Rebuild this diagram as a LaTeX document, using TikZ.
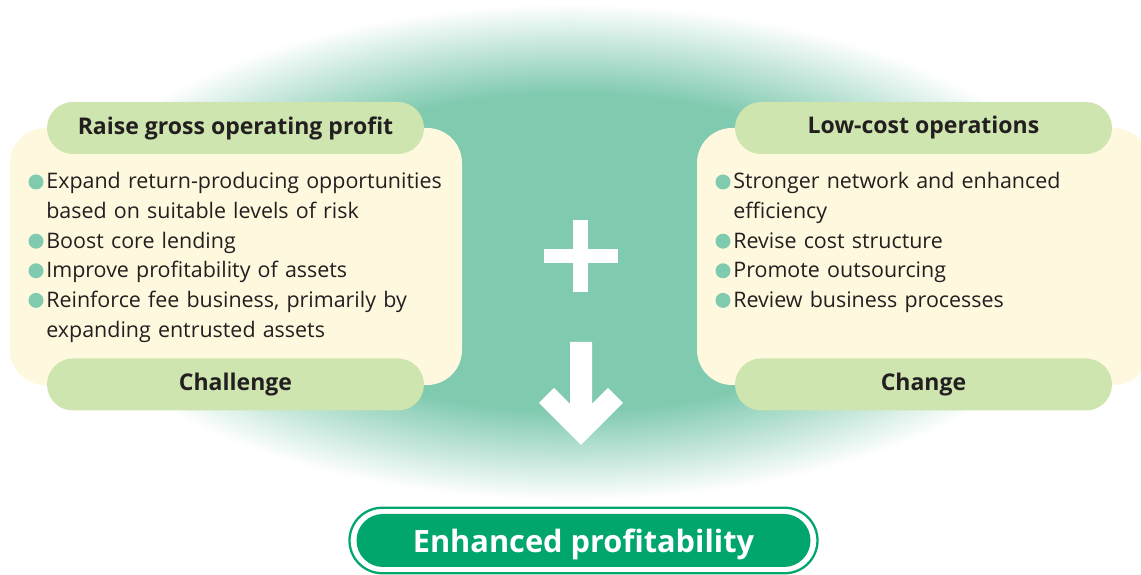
\documentclass[tikz,border=0pt]{standalone}
\usepackage{fontspec}
\setmainfont{Open Sans}
\definecolor{glow}{RGB}{128,202,176}
\definecolor{paper}{RGB}{254,249,222}
\definecolor{leaf}{RGB}{207,229,175}
\definecolor{result}{RGB}{0,166,108}
\definecolor{ink}{RGB}{35,31,32}
\pgfdeclareradialshading{glowfade}{\pgfpoint{0cm}{0cm}}{color(0bp)=(glow); color(16bp)=(glow); color(25bp)=(white); color(50bp)=(white)}
\tikzstyle{panel}=[rectangle,fill=paper,rounded corners=0.7cm,minimum width=9.04cm,minimum height=5.14cm]
\tikzstyle{pill}=[rectangle,fill=leaf,rounded corners=0.52cm,minimum width=7.54cm,minimum height=1.04cm,text=ink,font=\fontsize{13.1}{16}\selectfont\bfseries]
\tikzstyle{item}=[anchor=base west,inner sep=0,text width=9cm,align=left,text=ink,font=\fontsize{12.2}{16.85}\selectfont]
\tikzstyle{dot}=[circle,fill=glow,minimum size=0.3cm,inner sep=0]
\tikzstyle{ring}=[rectangle,draw=result,line width=1.3pt,rounded corners=0.655cm,minimum width=9.36cm,minimum height=1.31cm]
\tikzstyle{goalbox}=[rectangle,fill=result,rounded corners=0.53cm,minimum width=9.08cm,minimum height=1.06cm,text depth=0pt,text=white,font=\fontsize{17.5}{20}\selectfont\bfseries]

\begin{document}
\begin{tikzpicture}
  \useasboundingbox (0,0) rectangle (22.82,-11.5);
  \clip (0,0) rectangle (22.82,-11.5);
  \shade[shading=glowfade] (11.42,-5.04) ellipse [x radius=10.5cm, y radius=4.96cm];

  \node[panel] (left) at (4.72,-5.13) {};
  \node[panel] (right) at (18.46,-5.13) {};
  \node[pill] (gross) at (4.71,-2.56) {Raise gross operating profit};
  \node[pill] (challenge) at (4.71,-7.69) {Challenge};
  \node[pill] (lowcost) at (18.47,-2.56) {Low-cost operations};
  \node[pill] (change) at (18.47,-7.69) {Change};

  \foreach \n/\k/\t in {expand/0/{Expand return-producing opportunities\\based on suitable levels of risk},lending/2/Boost core lending,assets/3/Improve profitability of assets,fee/4/{Reinforce fee business, primarily by\\expanding entrusted assets}}{
    \node[dot] (\n dot) at (0.72,{-3.64-0.592*\k}) {};
    \node[item] (\n) at (0.92,{-3.78-0.592*\k}) {\t};
  }
  \foreach \n/\k/\t in {network/0/{Stronger network and enhanced\\efficiency},cost/2/Revise cost structure,outsourcing/3/Promote outsourcing,processes/4/Review business processes}{
    \node[dot] (\n dot) at (14.46,{-3.64-0.592*\k}) {};
    \node[item] (\n) at (14.66,{-3.78-0.592*\k}) {\t};
  }

  \fill[white] (10.88,-4.98) rectangle (12.36,-5.26);
  \fill[white] (11.46,-4.40) rectangle (11.76,-5.84);
  \fill[white] (11.40,-6.84) -- (11.84,-6.84) -- (11.84,-8.08) -- (12.16,-7.76) -- (12.46,-8.06)
    -- (11.62,-8.90) -- (10.78,-8.06) -- (11.08,-7.76) -- (11.40,-8.08) -- cycle;

  \node[ring] (goalring) at (11.67,-10.81) {};
  \node[goalbox] (goal) at (11.67,-10.81) {Enhanced profitability};
\end{tikzpicture}
\end{document}
